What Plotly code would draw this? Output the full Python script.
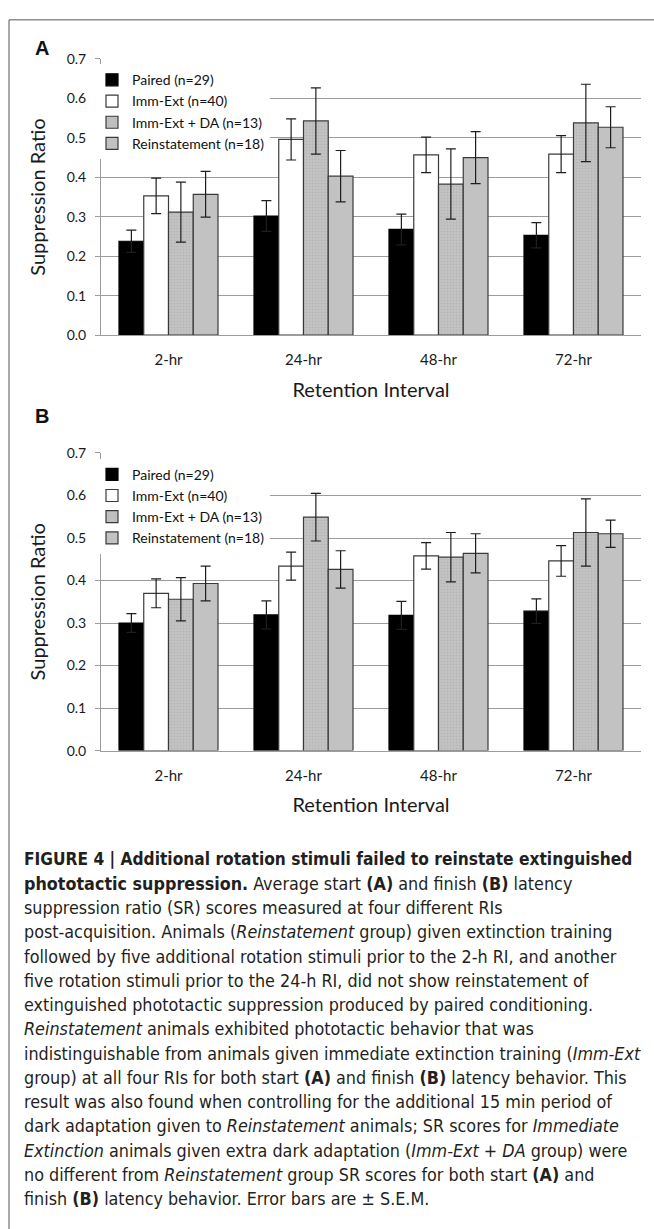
import plotly.graph_objects as go

# ---------------- data ----------------
CATEGORIES = ["2-hr", "24-hr", "48-hr", "72-hr"]
SERIES = ["Paired (n=29)", "Imm-Ext (n=40)", "Imm-Ext + DA (n=13)", "Reinstatement (n=18)"]

# Panel A (start latency)
PAIRED_A = [0.238, 0.302, 0.268, 0.253]
PAIRED_A_ERR = [0.028, 0.039, 0.039, 0.032]
IMMEXT_A = [0.353, 0.496, 0.457, 0.459]
IMMEXT_A_ERR = [0.045, 0.052, 0.045, 0.047]
IMMEXTDA_A = [0.312, 0.543, 0.383, 0.538]
IMMEXTDA_A_ERR = [0.076, 0.084, 0.089, 0.098]
REINST_A = [0.357, 0.403, 0.450, 0.527]
REINST_A_ERR = [0.058, 0.065, 0.066, 0.052]

# Panel B (finish latency)
PAIRED_B = [0.300, 0.319, 0.318, 0.328]
PAIRED_B_ERR = [0.022, 0.033, 0.033, 0.029]
IMMEXT_B = [0.370, 0.434, 0.458, 0.446]
IMMEXT_B_ERR = [0.034, 0.033, 0.031, 0.036]
IMMEXTDA_B = [0.356, 0.549, 0.455, 0.513]
IMMEXTDA_B_ERR = [0.051, 0.056, 0.058, 0.079]
REINST_B = [0.393, 0.426, 0.464, 0.510]
REINST_B_ERR = [0.041, 0.044, 0.046, 0.032]

Y_TICKS = [0.0, 0.1, 0.2, 0.3, 0.4, 0.5, 0.6, 0.7]
Y_TITLE = "Suppression Ratio"
X_TITLE = "Retention Interval"
PANEL_LABELS = ["A", "B"]

CAPTION_LINES = [
    "<b>FIGURE 4 | Additional rotation stimuli failed to reinstate extinguished</b>",
    "<b>phototactic suppression.</b> Average start <b>(A)</b> and finish <b>(B)</b> latency",
    "suppression ratio (SR) scores measured at four different RIs",
    "post-acquisition. Animals (<i>Reinstatement</i> group) given extinction training",
    "followed by five additional rotation stimuli prior to the 2-h RI, and another",
    "five rotation stimuli prior to the 24-h RI, did not show reinstatement of",
    "extinguished phototactic suppression produced by paired conditioning.",
    "<i>Reinstatement</i> animals exhibited phototactic behavior that was",
    "indistinguishable from animals given immediate extinction training (<i>Imm-Ext</i>",
    "group) at all four RIs for both start <b>(A)</b> and finish <b>(B)</b> latency behavior. This",
    "result was also found when controlling for the additional 15 min period of",
    "dark adaptation given to <i>Reinstatement</i> animals; SR scores for <i>Immediate</i>",
    "<i>Extinction</i> animals given extra dark adaptation (<i>Imm-Ext + DA</i> group) were",
    "no different from <i>Reinstatement</i> group SR scores for both start <b>(A)</b> and",
    "finish <b>(B)</b> latency behavior. Error bars are \u00b1 S.E.M.",
]

# ---------------- layout helpers ----------------
W, H = 654, 1229


def fx(px):
    return px / W


def fy(py):
    return 1 - py / H


FONT = "Lato, Carlito, Calibri, sans-serif"
CAP_FONT = "DejaVu Sans Condensed, sans-serif"
GRID = "#9c9c9c"
OUTLINE = "#3a3a3a"

styles = [
    dict(color="#000000", line=dict(color="#000000", width=1.2)),
    dict(color="#ffffff", line=dict(color=OUTLINE, width=1.2)),
    dict(color="#c0c0c0", line=dict(color=OUTLINE, width=1.2),
         pattern=dict(shape=".", fgcolor="#a8a8a8", bgcolor="#c4c4c4", size=3, solidity=0.4)),
    dict(color="#c2c2c2", line=dict(color=OUTLINE, width=1.2)),
]

panels = [
    dict(vals=[PAIRED_A, IMMEXT_A, IMMEXTDA_A, REINST_A],
         errs=[PAIRED_A_ERR, IMMEXT_A_ERR, IMMEXTDA_A_ERR, REINST_A_ERR],
         top=50.7, bottom=330.7, xa="x", ya="y", legend="legend"),
    dict(vals=[PAIRED_B, IMMEXT_B, IMMEXTDA_B, REINST_B],
         errs=[PAIRED_B_ERR, IMMEXT_B_ERR, IMMEXTDA_B_ERR, REINST_B_ERR],
         top=450.2, bottom=752.0, xa="x2", ya="y2", legend="legend2"),
]

fig = go.Figure()

for p in panels:
    for name, v, e, st in zip(SERIES, p["vals"], p["errs"], styles):
        fig.add_trace(go.Bar(
            x=CATEGORIES, y=v, name=name,
            marker=st,
            error_y=dict(type="data", array=e, color="#1e1e1e", thickness=1.2, width=5),
            xaxis=p["xa"], yaxis=p["ya"], legend=p["legend"],
            showlegend=True,
        ))

X_DOMAIN = [fx(101), fx(641)]

axis_common_x = dict(
    domain=X_DOMAIN, type="category", showline=True, linecolor=GRID, linewidth=1,
    ticks="", showgrid=False, tickfont=dict(family=FONT, size=15, color="#1a1a1a"),
    ticklabelstandoff=11,
    title=dict(text=X_TITLE, font=dict(family=FONT, size=20, color="#1a1a1a"), standoff=15),
)
axis_common_y = dict(
    range=[0, 0.7], tickvals=Y_TICKS, tickformat=".1f", showgrid=True, gridcolor=GRID,
    gridwidth=1, showline=True, linecolor=GRID, linewidth=1, ticks="outside", ticklen=5,
    tickcolor=GRID, tickfont=dict(family=FONT, size=14, color="#1a1a1a"),
    ticklabelstandoff=6, zeroline=False,
    title=dict(text=Y_TITLE, font=dict(family=FONT, size=20, color="#1a1a1a"), standoff=15),
)

legend_common = dict(x=fx(92), xanchor="left", yanchor="top", bgcolor="white",
                     font=dict(family=FONT, size=14, color="#111111"), itemwidth=30,
                     tracegroupgap=0, borderwidth=0)

fig.update_layout(
    width=W, height=H, margin=dict(l=0, r=0, t=0, b=0),
    paper_bgcolor="white", plot_bgcolor="white",
    barmode="group", bargap=0.2667, bargroupgap=0,
    xaxis=dict(axis_common_x, anchor="y"),
    yaxis=dict(axis_common_y, domain=[fy(panels[0]["bottom"]), fy(panels[0]["top"])], anchor="x"),
    xaxis2=dict(axis_common_x, anchor="y2"),
    yaxis2=dict(axis_common_y, domain=[fy(panels[1]["bottom"]), fy(panels[1]["top"])], anchor="x2"),
    legend=dict(legend_common, y=fy(56)),
    legend2=dict(legend_common, y=fy(456)),
    showlegend=True,
)

# frame around the figure
fig.add_shape(type="rect", xref="paper", yref="paper", x0=fx(9), x1=1.05, y0=-0.05, y1=fy(11),
              line=dict(color="#555555", width=1), fillcolor="rgba(0,0,0,0)", layer="below")

# panel letters
for lab, ypx in zip(PANEL_LABELS, [40, 413]):
    fig.add_annotation(text="<b>%s</b>" % lab, x=fx(42), y=fy(ypx), xref="paper", yref="paper",
                       showarrow=False, xanchor="center", yanchor="middle",
                       font=dict(family="Liberation Sans, Arial, sans-serif", size=20, color="#111111"))

# caption
CAP_TOP = 862
CAP_STEP = 24.6
for i, line in enumerate(CAPTION_LINES):
    fig.add_annotation(text=line, x=fx(22), y=fy(CAP_TOP + i * CAP_STEP), xref="paper", yref="paper",
                       showarrow=False, xanchor="left", yanchor="middle", align="left",
                       font=dict(family=CAP_FONT, size=17.2 if i == 0 else 17.8, color="#231f20"))

fig.write_html(
    "out.html",
    config={"displayModeBar": False},
    post_script="document.body.style.margin='0';document.body.style.overflow='hidden';",
)
